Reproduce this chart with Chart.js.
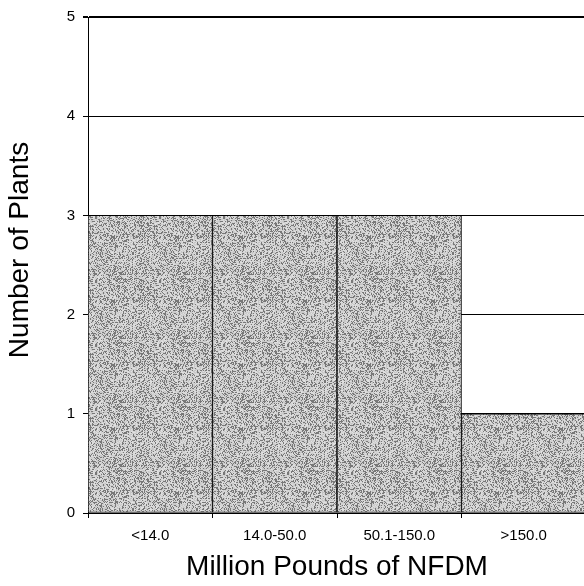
<!DOCTYPE html>
<html><head><meta charset="utf-8">
<style>html,body{margin:0;padding:0;background:#fff;overflow:hidden}
#wrap{width:586px;height:586px;position:relative}</style>
<script src="https://cdn.jsdelivr.net/npm/chart.js@4"></script>
</head><body><div id="wrap"><canvas id="c" width="586" height="586"></canvas></div>
<script>
const categories = ['<14.0', '14.0-50.0', '50.1-150.0', '>150.0'];
const plantCounts = [3, 3, 3, 1];
const yTickValues = [0, 1, 2, 3, 4, 5];
const xTitle = 'Million Pounds of NFDM';
const yTitle = 'Number of Plants';

const FONT = "'Liberation Sans', Arial, Helvetica, sans-serif";

function stipplePattern() {
  const s = 64;
  const c = document.createElement('canvas');
  c.width = c.height = s;
  const g = c.getContext('2d');
  const img = g.createImageData(s, s);
  for (let y = 0; y < s; y++) {
    for (let x = 0; x < s; x++) {
      let h = (Math.imul(x, 374761393) + Math.imul(y, 668265263)) | 0;
      h = Math.imul(h ^ (h >>> 13), 1274126177);
      h = (h ^ (h >>> 16)) >>> 0;
      const v = (h & 255) < 84 ? 120 : 195 + ((h >>> 8) & 31);
      const i = (y * s + x) * 4;
      img.data[i] = img.data[i + 1] = img.data[i + 2] = v;
      img.data[i + 3] = 255;
    }
  }
  g.putImageData(img, 0, 0);
  return document.getElementById('c').getContext('2d').createPattern(c, 'repeat');
}

const yTitlePlugin = {
  id: 'yTitlePlugin',
  afterDraw(chart) {
    const ctx = chart.ctx;
    ctx.save();
    ctx.translate(20, 250);
    ctx.rotate(-Math.PI / 2);
    ctx.font = '28px ' + FONT;
    ctx.fillStyle = '#000';
    ctx.textAlign = 'center';
    ctx.textBaseline = 'middle';
    ctx.fillText(yTitle, 0, 0);
    ctx.restore();
  }
};

new Chart(document.getElementById('c'), {
  type: 'bar',
  data: {
    labels: categories,
    datasets: [{
      data: plantCounts,
      backgroundColor: stipplePattern(),
      borderColor: '#000',
      borderWidth: 1,
      borderSkipped: false,
      barPercentage: 1,
      categoryPercentage: 1
    }]
  },
  options: {
    responsive: false,
    animation: false,
    devicePixelRatio: 1,
    layout: { padding: { top: 15, right: 0, left: 0, bottom: 0 } },
    plugins: { legend: { display: false }, tooltip: { enabled: false } },
    scales: {
      x: {
        grid: { display: true, drawOnChartArea: false, drawTicks: true, tickLength: 5, color: '#000', offset: true },
        border: { display: true, color: '#000', width: 1 },
        ticks: { color: '#000', font: { family: FONT, size: 15 }, padding: 9, maxRotation: 0, autoSkip: false },
        title: { display: true, text: xTitle, color: '#000', font: { family: FONT, size: 28 }, padding: { top: 0, bottom: 2 } },
        afterFit(scale) { scale.height = 73; }
      },
      y: {
        min: 0, max: 5,
        afterBuildTicks(scale) { scale.ticks = yTickValues.map(v => ({ value: v })); },
        grid: { color: '#000', lineWidth: c => (c.tick && c.tick.value === 5 ? 2 : 1), tickLength: 5, tickColor: '#000' },
        border: { display: true, color: '#000', width: 1 },
        ticks: { color: '#000', font: { family: FONT, size: 15 }, padding: 8 },
        afterFit(scale) { scale.width = 88; }
      }
    }
  },
  plugins: [yTitlePlugin]
});
</script>
</body></html>
